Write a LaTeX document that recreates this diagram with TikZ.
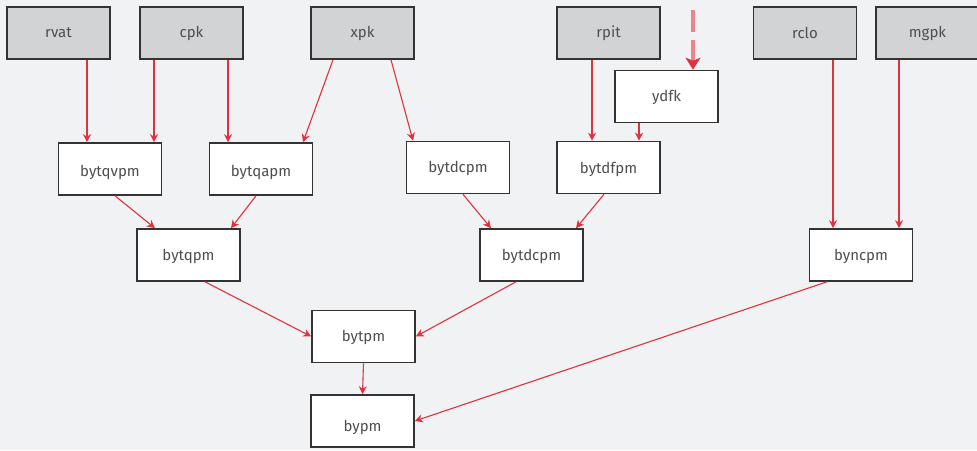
\documentclass[tikz,border=0pt]{standalone}
\usepackage{fontspec}
\setmainfont{Fira Sans}
\usetikzlibrary{arrows.meta}
\definecolor{bgc}{HTML}{F1F2F4}
\definecolor{srcfill}{HTML}{D1D3D5}
\definecolor{edgec}{HTML}{333333}
\definecolor{linkc}{HTML}{E0323E}
\definecolor{txt}{HTML}{4E4E4E}
\tikzset{
  box/.style={draw=edgec, line width=1.6pt, minimum width=103pt, minimum height=52pt,
    inner sep=0pt, text=txt, font=\fontsize{15}{17}\selectfont, fill=white},
  srcbox/.style={box, fill=srcfill},
  % moves the label a little below the middle of its box
  sink/.style={text height=#1, text depth=0pt},
  link/.style={draw=linkc, line width=1.1pt, -{Stealth[length=8pt,width=8pt,inset=2.5pt]}},
  ghost/.style={draw=linkc!60, line width=3.5pt, dash pattern=on 22pt off 8pt,
    -{Stealth[length=12pt,width=15pt,inset=3pt,color=linkc,fill=linkc]}}
}
\begin{document}
\begin{tikzpicture}[x=1pt,y=-1pt]
\fill[bgc] (0,0) rectangle (977,450);
\useasboundingbox (0,0) rectangle (977,450);

% source row
\node[srcbox] (rvat) at (58.5,33) {rvat};
\node[srcbox] (cpk)  at (191.5,33) {cpk};
\node[srcbox] (xpk)  at (362.5,33) {xpk};
\node[srcbox] (rpit) at (608.5,33) {rpit};
\node[srcbox] (rclo) at (805,33) {rclo};
\node[srcbox] (mgpk) at (927.5,33) {mgpk};

% intermediate rows
\node[box, sink=9.2pt]  (ydfk)     at (666.5,96.5) {ydfk};
\node[box, sink=14.2pt] (bytqvpm)  at (110,169) {bytqvpm};
\node[box, sink=14.2pt] (bytqapm)  at (261,169) {bytqapm};
\node[box, sink=9.2pt]  (bytdcpmA) at (458,167.5) {bytdcpm};
\node[box, sink=12.2pt] (bytdfpm)  at (608.5,167.5) {bytdfpm};
\node[box, sink=11.2pt] (bytqpm)   at (188.5,255) {bytqpm};
\node[box, sink=11.2pt] (bytdcpmB) at (531.5,255) {bytdcpm};
\node[box, sink=11.2pt] (byncpm)   at (861,255) {byncpm};
\node[box, sink=10.2pt] (bytpm)    at (363.5,336.5) {bytpm};
\node[box, sink=20.2pt] (bypm)     at (362.5,421) {bypm};

\coordinate (ext) at (693,10);

% connectors
\draw[link] ([xshift=28.5]rvat.south) -- ([xshift=-23]bytqvpm.north);
\draw[link] ([xshift=-37.5]cpk.south) -- ([xshift=44]bytqvpm.north);
\draw[link] ([xshift=36.5]cpk.south) -- ([xshift=-33]bytqapm.north);
\draw[link] ([xshift=-29.5]xpk.south) -- ([xshift=42]bytqapm.north);
\draw[link] ([xshift=28.5]xpk.south) -- ([xshift=-45]bytdcpmA.north);
\draw[link] ([xshift=-16.5]rpit.south) -- ([xshift=-16.5]bytdfpm.north);
\draw[link] ([xshift=-27.5]ydfk.south) -- ([xshift=30.5]bytdfpm.north);
\draw[ghost] (ext) -- ([xshift=26.5]ydfk.north);
\draw[link] ([xshift=28]rclo.south) -- ([xshift=-28]byncpm.north);
\draw[link] ([xshift=-28.5]mgpk.south) -- ([xshift=38]byncpm.north);
\draw[link] ([xshift=5]bytqvpm.south) -- ([xshift=-33.5]bytqpm.north);
\draw[link] ([xshift=-5]bytqapm.south) -- ([xshift=42.5]bytqpm.north);
\draw[link] ([xshift=5]bytdcpmA.south) -- ([xshift=-40.5]bytdcpmB.north);
\draw[link] ([xshift=-4.5]bytdfpm.south) -- ([xshift=44.5]bytdcpmB.north);
\draw[link] ([xshift=16.5]bytqpm.south) -- (bytpm.west);
\draw[link] ([xshift=-15.5]bytdcpmB.south) -- (bytpm.east);
\draw[link] (bytpm.south) -- (bypm.north);
\draw[link] ([xshift=-34]byncpm.south) -- (bypm.east);
\end{tikzpicture}
\end{document}
